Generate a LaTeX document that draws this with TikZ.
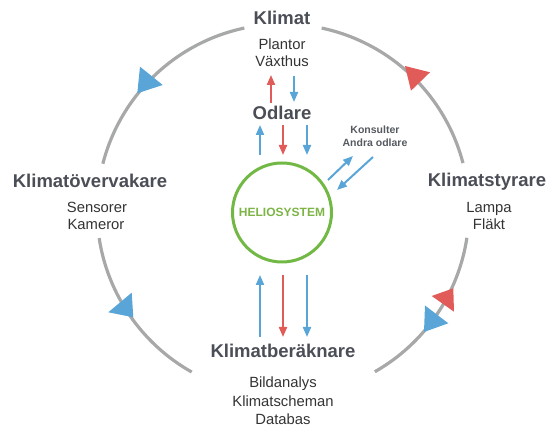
\documentclass[tikz,border=0pt]{standalone}
\usepackage{fontspec}
\setmainfont{Liberation Sans}
\usetikzlibrary{arrows.meta}
\definecolor{ringgray}{RGB}{167,169,168}
\definecolor{ared}{RGB}{225,91,88}
\definecolor{ablue}{RGB}{90,165,216}
\definecolor{hgreen}{RGB}{114,184,68}
\definecolor{htext}{RGB}{125,180,70}
\definecolor{headc}{RGB}{75,78,86}
\definecolor{subc}{RGB}{51,51,51}
\definecolor{smallc}{RGB}{85,90,96}
\tikzset{
  head/.style={inner sep=0pt, anchor=base, text=headc, font=\fontsize{18.5}{22}\selectfont\bfseries},
  sub/.style={inner sep=0pt, anchor=base, text=subc, font=\fontsize{14.8}{18}\selectfont},
  small/.style={inner sep=0pt, anchor=base, text=smallc, font=\fontsize{10.5}{12}\selectfont\bfseries},
  ring/.style={draw=ringgray, line width=3.2pt},
  redarr/.style={draw=ared, line width=2pt, -{Triangle[width=8pt,length=10pt]}},
  bluearr/.style={draw=ablue, line width=2pt, -{Triangle[width=8pt,length=10pt]}},
}
\begin{document}
\begin{tikzpicture}[x=1pt,y=1pt]
\useasboundingbox (0,0) rectangle (550,430);
% ring
\coordinate (C) at (283,220);
\draw[ring] (C) ++(14.6:186) arc[start angle=14.6, end angle=78, radius=186];
\draw[ring] (C) ++(102:186) arc[start angle=102, end angle=165.6, radius=186];
\draw[ring] (C) ++(188.7:186) arc[start angle=188.7, end angle=240.6, radius=186];
\draw[ring] (C) ++(299.6:186) arc[start angle=299.6, end angle=351.4, radius=186];
% ring arrowheads
\fill[ared] (405,364) -- (430,357.7) -- (411,339.3) -- cycle;
\fill[ablue] (140,363.3) -- (162.7,345) -- (137.3,336.7) -- cycle;
\fill[ablue] (108.3,117.7) -- (131.7,137.3) -- (133.3,112.7) -- cycle;
\fill[ared] (431.7,134) -- (453.3,141.7) -- (454,118.3) -- cycle;
\fill[ablue] (425,124.5) -- (448.3,106.7) -- (424,98) -- cycle;
% texts
\node[head] (klimat) at (282,405) {Klimat};
\node[sub] (plantor) at (282,380) {Plantor};
\node[sub] (vaxthus) at (282,363) {Växthus};
\node[head] (odlare) at (282,310) {Odlare};
\node[head] (overv) at (90,242) {Klimatövervakare};
\node[sub] (sensorer) at (97,217) {Sensorer};
\node[sub] (kameror) at (96,200) {Kameror};
\node[head] (styr) at (487,243) {Klimatstyrare};
\node[sub] (lampa) at (489,217) {Lampa};
\node[sub] (flakt) at (489,200) {Fläkt};
\node[head] (berak) at (283,72) {Klimatberäknare};
\node[sub] (bild) at (283,42) {Bildanalys};
\node[sub] (schema) at (283,23.5) {Klimatscheman};
\node[sub] (databas) at (283,5) {Databas};
\node[small] (kons) at (375,296) {Konsulter};
\node[small] (andra) at (375,283) {Andra odlare};
% helio
\node[circle, draw=hgreen, line width=3pt, minimum size=99pt, inner sep=0pt] (helio) at (282,217.5) {};
\node[inner sep=0pt, text=htext, font=\fontsize{12}{14}\selectfont\bfseries] (heliot) at (helio.center) {HELIOSYSTEM};
% arrow end points
\coordinate (a1s) at (271,327); \coordinate (a1e) at (271,355);
\coordinate (a2s) at (294,354); \coordinate (a2e) at (294,328);
\coordinate (b1s) at (260,275); \coordinate (b1e) at (260,305);
\coordinate (b2s) at (283,305); \coordinate (b2e) at (283,275);
\coordinate (b3s) at (307,305); \coordinate (b3e) at (307,275);
\coordinate (c1s) at (260,93);  \coordinate (c1e) at (260,155);
\coordinate (c2s) at (283,155); \coordinate (c2e) at (283,93);
\coordinate (c3s) at (307,155); \coordinate (c3e) at (307,93);
\coordinate (d1s) at (328,250); \coordinate (d1e) at (353,274);
\coordinate (d2s) at (373,273); \coordinate (d2e) at (337,240);
\draw[redarr] (a1s) -- (a1e);
\draw[bluearr] (a2s) -- (a2e);
\draw[bluearr] (b1s) -- (b1e);
\draw[redarr] (b2s) -- (b2e);
\draw[bluearr] (b3s) -- (b3e);
\draw[bluearr] (c1s) -- (c1e);
\draw[redarr] (c2s) -- (c2e);
\draw[bluearr] (c3s) -- (c3e);
\draw[bluearr] (d1s) -- (d1e);
\draw[bluearr] (d2s) -- (d2e);
\end{tikzpicture}
\end{document}
